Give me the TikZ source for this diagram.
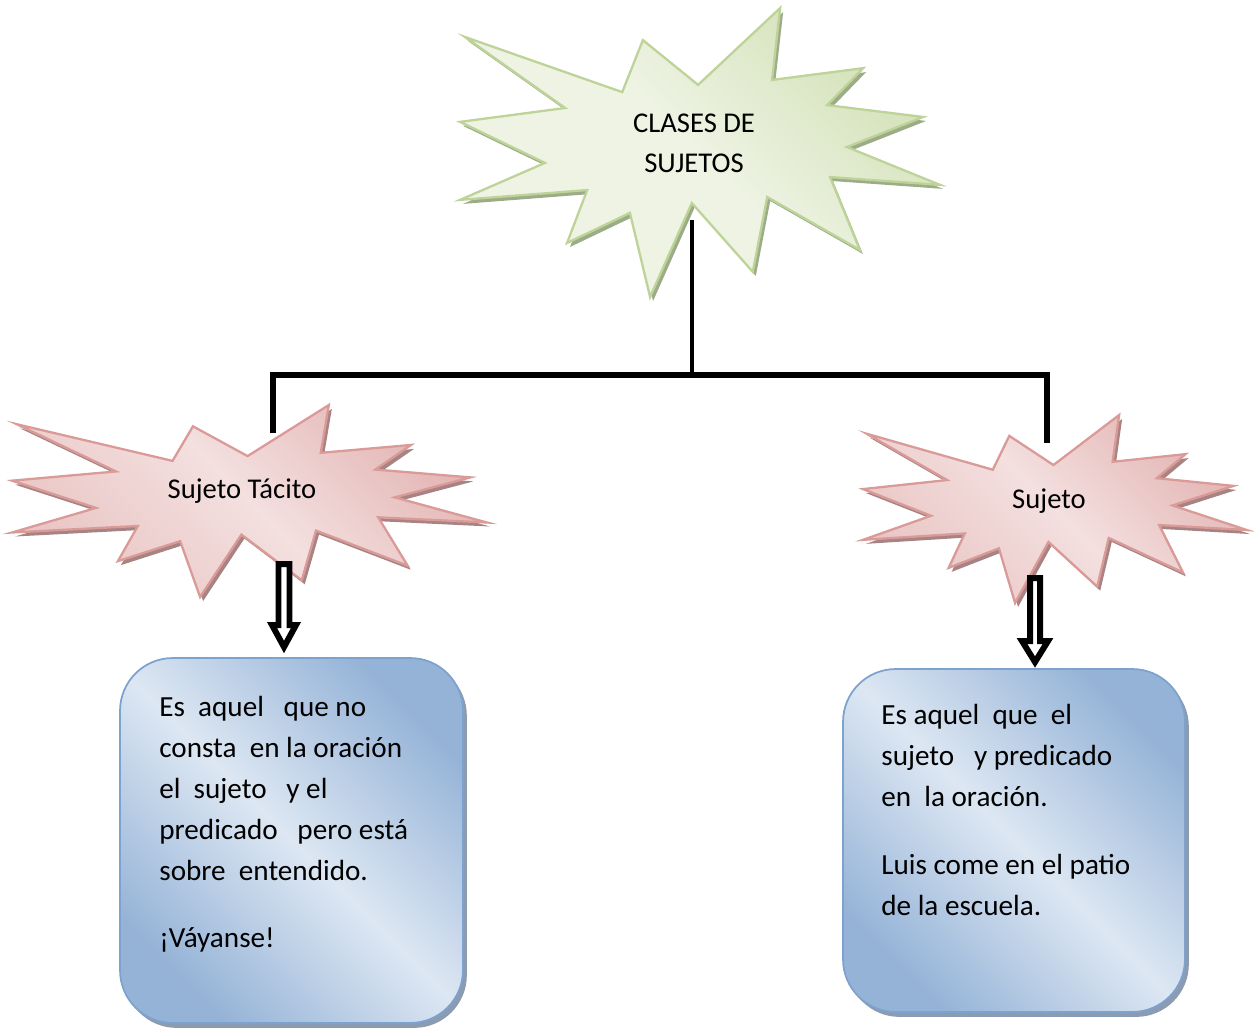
\documentclass[tikz,border=0pt]{standalone}
\usepackage{fontspec}
\setmainfont{Carlito}
\usetikzlibrary{calc,shadows}

\definecolor{greenlight}{HTML}{EEF3E3}
\definecolor{greendark}{HTML}{D3E1B8}
\definecolor{greenedge}{HTML}{BDD397}
\definecolor{greenshade}{HTML}{9DAC88}
\definecolor{pinklight}{HTML}{F3E0DF}
\definecolor{pinkdark}{HTML}{E3B5B4}
\definecolor{pinkedge}{HTML}{D99A98}
\definecolor{pinkshade}{HTML}{A88383}
\definecolor{boxlight}{HTML}{DDE7F3}
\definecolor{boxdark}{HTML}{95B3D7}
\definecolor{boxedge}{HTML}{7EA2CE}
\definecolor{boxshade}{HTML}{8B9BB2}

% explosion outline: left, top, width, height (px)
\newcommand{\burst}[4]{%
  ({#1+0.010*#3},{#2+0.100*#4}) -- ({#1+0.219*#3},{#2+0.346*#4}) --
  ({#1+0.000*#3},{#2+0.394*#4}) -- ({#1+0.177*#3},{#2+0.536*#4}) --
  ({#1+0.000*#3},{#2+0.664*#4}) -- ({#1+0.265*#3},{#2+0.630*#4}) --
  ({#1+0.223*#3},{#2+0.813*#4}) -- ({#1+0.354*#3},{#2+0.709*#4}) --
  ({#1+0.396*#3},{#2+1.000*#4}) -- ({#1+0.483*#3},{#2+0.675*#4}) --
  ({#1+0.610*#3},{#2+0.913*#4}) -- ({#1+0.640*#3},{#2+0.654*#4}) --
  ({#1+0.833*#3},{#2+0.837*#4}) -- ({#1+0.771*#3},{#2+0.585*#4}) --
  ({#1+1.000*#3},{#2+0.612*#4}) -- ({#1+0.806*#3},{#2+0.481*#4}) --
  ({#1+0.965*#3},{#2+0.377*#4}) -- ({#1+0.765*#3},{#2+0.336*#4}) --
  ({#1+0.840*#3},{#2+0.208*#4}) -- ({#1+0.650*#3},{#2+0.249*#4}) --
  ({#1+0.667*#3},{#2+0.000*#4}) -- ({#1+0.496*#3},{#2+0.266*#4}) --
  ({#1+0.381*#3},{#2+0.111*#4}) -- ({#1+0.338*#3},{#2+0.291*#4}) -- cycle}

\begin{document}
\begin{tikzpicture}[x=0.02cm, y=-0.02cm,
    greenburst/.style={draw=greenedge, line width=1.3pt, top color=greendark, bottom color=greenlight, middle color=greenlight, shading angle=-45},
    pinkburst/.style={draw=pinkedge, line width=1.3pt, top color=pinkdark, bottom color=pinkdark!60!pinklight, middle color=pinklight, shading angle=-45},
    bursttext/.style={inner sep=0pt, align=center, font=\fontsize{16.3}{22.7}\selectfont},
    infobox/.style={rectangle, rounded corners=30pt, draw=boxedge, line width=1pt, top color=boxdark, bottom color=boxdark, middle color=boxlight, shading angle=-45, drop shadow={shadow xshift=2.2pt, shadow yshift=-2.8pt, fill=boxshade, opacity=1}},
    boxtext/.style={anchor=north west, inner sep=0pt, align=left, font=\fontsize{16.6}{23.3}\selectfont},
    branch/.style={draw=black, line width=3.2pt},
    blockarrow/.style={draw=black, fill=white, line width=3.4pt}]
  \useasboundingbox (0,0) rectangle (1254,1029);

  % explosions
  \fill[greenshade, shift={(3,4)}] \burst{460}{8}{480}{289};
  \path[greenburst] \burst{460}{8}{480}{289};
  \fill[pinkshade, shift={(3,4)}] \burst{12}{405}{475}{192};
  \path[pinkburst] \burst{12}{405}{475}{192};
  \fill[pinkshade, shift={(3,4)}] \burst{863}{415}{384}{188};
  \path[pinkburst] \burst{863}{415}{384}{188};

  \node[bursttext, anchor=north] (clases) at (694,114) {CLASES DE\\SUJETOS};
  \node[bursttext, anchor=base] (tacito) at (242,498) {Sujeto T\'acito};
  \node[bursttext, anchor=base] (sujeto) at (1049,508) {Sujeto};

  % tree lines
  \coordinate (stemtop) at (692,220);
  \coordinate (fork) at (692,375);
  \coordinate (legl) at (273,433);
  \coordinate (legr) at (1047,443);
  \draw[branch, line width=2.4pt] (stemtop) -- (fork);
  \draw[branch] (legl) |- (fork) -| (legr);

  % boxes
  \node[infobox, minimum width=6.86cm, minimum height=7.30cm] (boxtacito) at (291.5,840.5) {};
  \node[infobox, minimum width=6.84cm, minimum height=6.86cm] (boxsujeto) at (1014,840.5) {};

  \node[boxtext] (txttacito) at (159,696) {Es\ \ aquel\ \ \ que no\\
    consta\ \ en la oraci\'on\\
    el\ \ sujeto\ \ \ y el\\
    predicado\ \ \ pero est\'a\\
    sobre\ \ entendido.\\[14.7pt]
    ¡V\'ayanse!};
  \node[boxtext] (txtsujeto) at (881,704) {Es aquel\ \ que\ \ el\\
    sujeto\ \ \ y predicado\\
    en\ \ la oraci\'on.\\[15.5pt]
    Luis come en el patio\\
    de la escuela.};

  % hollow arrows
  \coordinate (arrl) at (284,564);
  \coordinate (arrltip) at (284,647);
  \coordinate (arrr) at (1035,578);
  \coordinate (arrrtip) at (1035,662);
  \draw[blockarrow] ($(arrl)+(-5.5,0)$) -- ($(arrl)+(5.5,0)$) -- ($(arrltip)+(5.5,-22)$) -- ($(arrltip)+(12,-22)$)
    -- (arrltip) -- ($(arrltip)+(-12,-22)$) -- ($(arrltip)+(-5.5,-22)$) -- cycle;
  \draw[blockarrow] ($(arrr)+(-5,0)$) -- ($(arrr)+(5,0)$) -- ($(arrrtip)+(5,-21)$) -- ($(arrrtip)+(13,-21)$)
    -- (arrrtip) -- ($(arrrtip)+(-13,-21)$) -- ($(arrrtip)+(-5,-21)$) -- cycle;
\end{tikzpicture}
\end{document}
